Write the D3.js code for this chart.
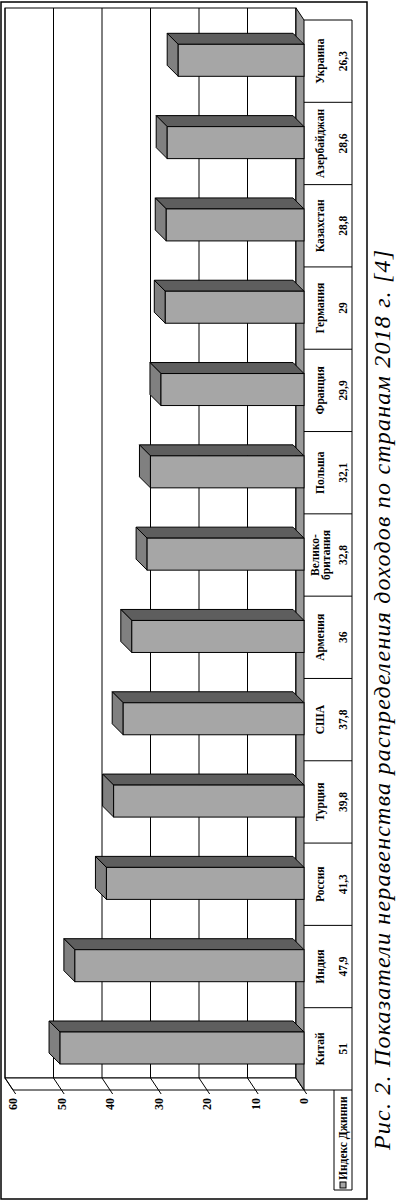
<!DOCTYPE html>
<html>
<head>
<meta charset="utf-8">
<script src="https://cdn.jsdelivr.net/npm/d3@7"></script>
<style>
  body { margin: 0; background: #fff; }
  svg { display: block; }
  text { font-family: "Liberation Serif", "Times New Roman", serif; }
</style>
</head>
<body>
<svg id="chart" width="399" height="1201"></svg>
<script>
// values (Gini index by country, 2018)
let countries = ["Китай", "Индия", "Россия", "Турция", "США", "Армения", "Велико-\nбритания", "Польша", "Франция", "Германия", "Казахстан", "Азербайджан", "Украина"];
let gini = [51, 47.9, 41.3, 39.8, 37.8, 36, 32.8, 32.1, 29.9, 29, 28.8, 28.6, 26.3];
let valueTicks = [0, 10, 20, 30, 40, 50, 60];
let seriesName = "Индекс Джинни";
let caption = "Рис. 2. Показатели неравенства распределения доходов по странам 2018 г. [4]";

let W = 1201; // the chart is built lying flat, then turned on its side
let svg = d3.select("#chart");
let g = svg.append("g").attr("transform", `translate(0,${W}) rotate(-90)`);

// 3d depth offsets
let wallDx = 12, wallDy = 8;
let barD = 11, barW = 32, barOff = 26;

let x = d3.scaleBand().domain(countries).range([111, 1181]);
let yFront = d3.scaleLinear().domain([0, 60]).range([304, 13]);
let yBack = d3.scaleLinear().domain([0, 60]).range([296, 5]);
let yBar = d3.scaleLinear().domain([0, 60]).range([304, 17]);

let x0 = x.range()[0], x1 = x.range()[1];
let pts = a => a.map(p => p.join(",")).join(" ");

// back wall + gridlines
g.append("rect")
  .attr("x", x0 + wallDx).attr("y", yBack(60))
  .attr("width", x1 - x0).attr("height", yBack(0) - yBack(60))
  .attr("fill", "#fff").attr("stroke", "#000");
g.selectAll(".grid").data(valueTicks).join("line")
  .attr("x1", x0 + wallDx).attr("x2", x1 + wallDx)
  .attr("y1", d => yBack(d)).attr("y2", d => yBack(d))
  .attr("stroke", "#000");

// side wall (value axis)
g.append("polygon")
  .attr("points", pts([[x0, yFront(60)], [x0 + wallDx, yBack(60)], [x0 + wallDx, yBack(0)], [x0, yFront(0)]]))
  .attr("fill", "#fff").attr("stroke", "#000");
g.selectAll(".tick").data(valueTicks).join("line")
  .attr("x1", x0 - 4).attr("y1", d => yFront(d) + 4 * wallDy / wallDx)
  .attr("x2", x0 + wallDx).attr("y2", d => yBack(d))
  .attr("stroke", "#000");
g.selectAll(".tlabel").data(valueTicks).join("text")
  .attr("x", x0 - 8).attr("y", d => yFront(d))
  .attr("text-anchor", "end").attr("dominant-baseline", "central")
  .attr("font-size", 12).attr("font-weight", "bold")
  .text(d => d);

// floor
g.append("polygon")
  .attr("points", pts([[x0, yFront(0)], [x0 + wallDx, yBack(0)], [x1 + wallDx, yBack(0)], [x1, yFront(0)]]))
  .attr("fill", "#9a9a9a").attr("stroke", "#000");

// bars
let bars = g.selectAll(".bar").data(countries).join("g");
bars.append("polygon") // side
  .attr("points", (d, i) => {
    let u = x(d) + barOff + barW, v = yBar(gini[i]);
    return pts([[u, v], [u + barD, v - barD], [u + barD, yBar(0) - barD], [u, yBar(0)]]);
  })
  .attr("fill", "#5e5e5e").attr("stroke", "#000");
bars.append("polygon") // top
  .attr("points", (d, i) => {
    let u = x(d) + barOff, v = yBar(gini[i]);
    return pts([[u, v], [u + barD, v - barD], [u + barW + barD, v - barD], [u + barW, v]]);
  })
  .attr("fill", "#808080").attr("stroke", "#000");
bars.append("rect") // front
  .attr("x", d => x(d) + barOff).attr("width", barW)
  .attr("y", (d, i) => yBar(gini[i]))
  .attr("height", (d, i) => yBar(0) - yBar(gini[i]))
  .attr("fill", "#a6a6a6").attr("stroke", "#000");

// data table
let t0 = 304, tMid = 334, t1 = 352;
g.selectAll(".col").data(x.domain().map(d => x(d)).concat([x1])).join("line")
  .attr("x1", d => d).attr("x2", d => d)
  .attr("y1", t0).attr("y2", t1)
  .attr("stroke", "#000");
g.append("line").attr("x1", 11).attr("x2", x1).attr("y1", t1).attr("y2", t1).attr("stroke", "#000");
g.append("line").attr("x1", 11).attr("x2", x0).attr("y1", tMid).attr("y2", tMid).attr("stroke", "#000");
g.append("line").attr("x1", 11).attr("x2", 11).attr("y1", tMid).attr("y2", t1).attr("stroke", "#000");

g.selectAll(".cname").data(countries).join("text")
  .attr("text-anchor", "middle").attr("font-size", 11.5).attr("font-weight", "bold")
  .each(function (d) {
    let lines = d.split("\n");
    let yc = (t0 + tMid) / 2 + 1 - (lines.length - 1) * 5.5;
    d3.select(this).selectAll("tspan").data(lines).join("tspan")
      .attr("x", x(d) + x.bandwidth() / 2)
      .attr("y", (l, k) => yc + k * 11)
      .attr("dominant-baseline", "central")
      .text(l => l);
  });
g.selectAll(".cval").data(gini).join("text")
  .attr("x", (d, i) => x(countries[i]) + x.bandwidth() / 2)
  .attr("y", (tMid + t1) / 2)
  .attr("text-anchor", "middle").attr("dominant-baseline", "central")
  .attr("font-size", 11.5).attr("font-weight", "bold")
  .text(d => String(d).replace(".", ","));

// legend key in the table
g.append("rect").attr("x", 13).attr("y", 340).attr("width", 6).attr("height", 6)
  .attr("fill", "#a6a6a6").attr("stroke", "#000");
g.append("text").attr("x", 21).attr("y", 343)
  .attr("dominant-baseline", "central")
  .attr("font-size", 11.5).attr("font-weight", "bold")
  .text(seriesName);

// outer frame
g.append("rect").attr("x", 2).attr("y", 1).attr("width", 1197).attr("height", 366)
  .attr("fill", "none").attr("stroke", "#000").attr("stroke-width", 1.5);

// caption
g.append("text").attr("x", 51).attr("y", 390)
  .attr("font-size", 24).attr("font-style", "italic")
  .attr("textLength", 900).attr("lengthAdjust", "spacing")
  .text(caption);
</script>
</body>
</html>
